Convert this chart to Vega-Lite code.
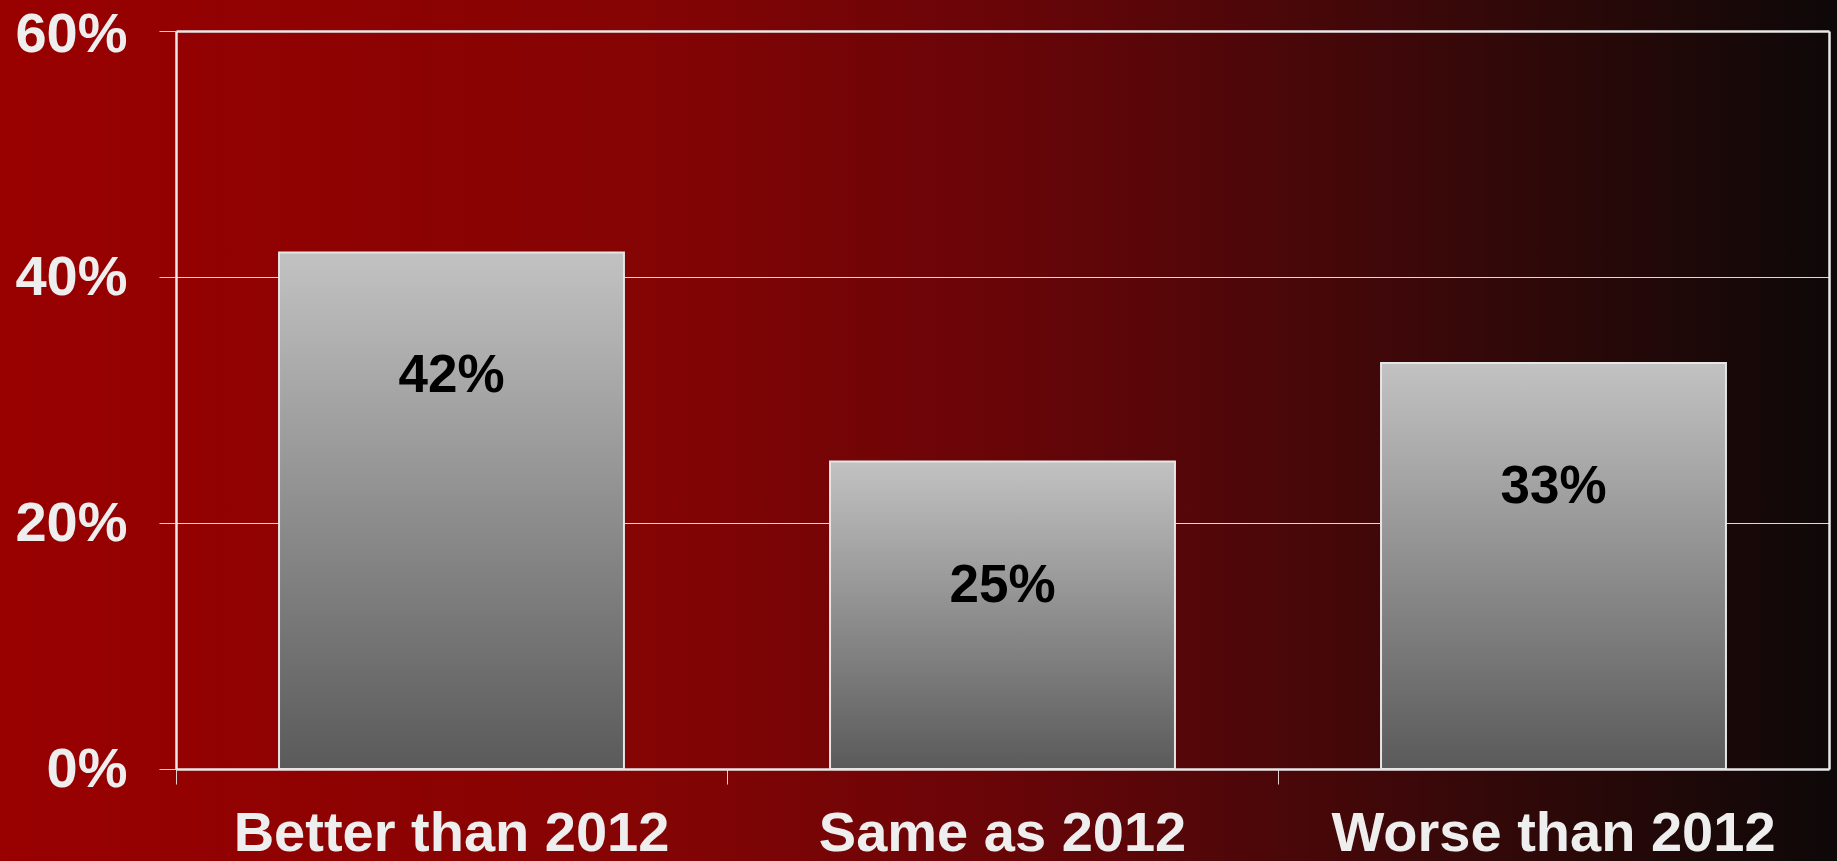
{
  "$schema": "https://vega.github.io/schema/vega-lite/v6.json",
  "width": 1837,
  "height": 861,
  "autosize": {"type": "none"},
  "padding": 0,
  "background": "#4a0606",
  "config": {
    "font": "Liberation Sans",
    "view": {
      "stroke": null,
      "fill": {
        "gradient": "linear",
        "x1": 0, "y1": 0, "x2": 1, "y2": 0,
        "stops": [
          {"offset": 0, "color": "#990000"},
          {"offset": 0.35, "color": "#850404"},
          {"offset": 0.56, "color": "#660508"},
          {"offset": 0.78, "color": "#3a0809"},
          {"offset": 1, "color": "#0e0808"}
        ]
      }
    }
  },
  "data": {
    "values": [
      {"category": "Better than 2012", "value": 0.42},
      {"category": "Same as 2012", "value": 0.25},
      {"category": "Worse than 2012", "value": 0.33}
    ]
  },
  "encoding": {
    "x": {
      "field": "category",
      "type": "nominal",
      "sort": null,
      "scale": {"range": [176, 1829], "paddingInner": 0.374, "paddingOuter": 0.187},
      "axis": {
        "orient": "bottom",
        "offset": -92,
        "title": null,
        "bandPosition": -0.2986,
        "domainColor": "#e8e8e8",
        "domainWidth": 2.5,
        "tickColor": "#e0d0d0",
        "tickWidth": 1,
        "tickSize": 15,
        "labelFontSize": 56,
        "labelFont": "Liberation Sans",
        "labelFontWeight": "bold",
        "labelColor": "#eeeeee",
        "labelPadding": 22,
        "labelAngle": 0,
        "labelLimit": 0,
        "labelOverlap": false,
        "grid": false
      }
    }
  },
  "layer": [
    {
      "mark": {
        "type": "bar",
        "stroke": "#e6e6e6",
        "strokeWidth": 2,
        "fill": {
          "gradient": "linear",
          "x1": 0, "y1": 0, "x2": 0, "y2": 1,
          "stops": [
            {"offset": 0, "color": "#c2c2c2"},
            {"offset": 1, "color": "#5a5a5a"}
          ]
        }
      },
      "encoding": {
        "y": {
          "field": "value",
          "type": "quantitative",
          "scale": {"domain": [0, 0.6], "range": [769, 31], "nice": false, "zero": true},
          "axis": {
            "orient": "left",
            "offset": -176,
            "values": [0, 0.2, 0.4, 0.6],
            "format": ".0%",
            "title": null,
            "domainColor": "#e8e8e8",
            "domainWidth": 2.5,
            "tickColor": "#e0d0d0",
            "tickWidth": 1,
            "tickSize": 17,
            "labelFontSize": 56,
            "labelFont": "Liberation Sans",
            "labelFontWeight": "bold",
            "labelColor": "#eeeeee",
            "labelPadding": 32,
            "labelOffset": {"condition": {"test": "datum.value > 0.59", "value": 3}, "value": 0},
            "labelFlush": false,
            "labelOverlap": false,
            "grid": true,
            "gridColor": {"condition": {"test": "datum.value > 0.59", "value": "#e8e8e8"}, "value": "#e6d6d6"},
            "gridWidth": {"condition": {"test": "datum.value > 0.59", "value": 2.5}, "value": 1}
          }
        }
      }
    },
    {
      "mark": {
        "type": "text",
        "fontSize": 53,
        "fontWeight": "bold",
        "font": "Liberation Sans",
        "color": "#000000",
        "baseline": "middle",
        "dy": 124
      },
      "encoding": {
        "text": {"field": "value", "type": "quantitative", "format": ".0%"},
        "y": {
          "field": "value",
          "type": "quantitative",
          "axis": {
            "orient": "right",
            "offset": -8,
            "labels": false,
            "ticks": false,
            "grid": false,
            "title": null,
            "domainColor": "#e8e8e8",
            "domainWidth": 2.5
          }
        }
      }
    }
  ],
  "resolve": {"axis": {"y": "independent"}}
}
